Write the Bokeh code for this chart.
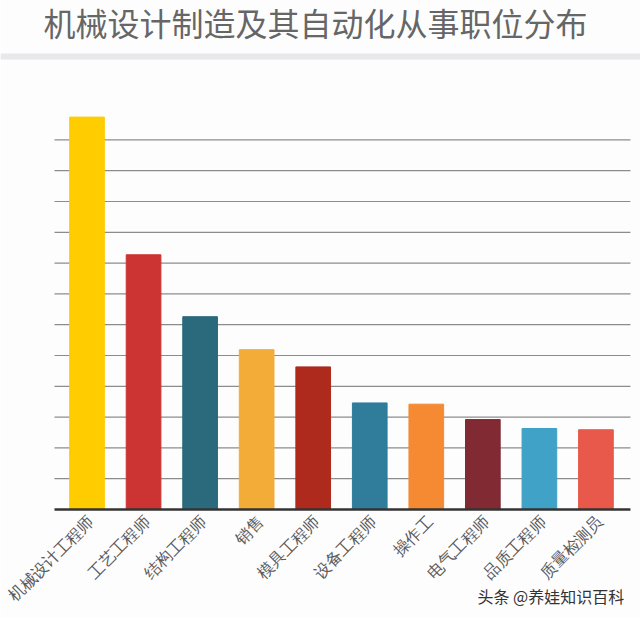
import math
from bokeh.embed import file_html
from bokeh.resources import INLINE
from bokeh.plotting import figure
from bokeh.models import (BoxAnnotation, Label, LabelSet, ColumnDataSource, Range1d)

categories = ["机械设计工程师", "工艺工程师", "结构工程师", "销售", "模具工程师",
              "设备工程师", "操作工", "电气工程师", "品质工程师", "质量检测员"]
values = [12.74, 8.27, 6.26, 5.19, 4.63, 3.46, 3.42, 2.92, 2.63, 2.59]
colors = ["#FFCC00", "#CC3333", "#2A6A7C", "#F3AC38", "#AE2A1C",
          "#2F7C9B", "#F58A33", "#822A33", "#3FA2C6", "#E8594B"]
title = "机械设计制造及其自动化从事职位分布"
watermark = "头条 @养娃知识百科"
grid_ticks = list(range(1, 13))
axis_extent = (-0.575, 9.61)

positions = list(range(len(categories)))
src = ColumnDataSource(dict(x=positions, c=categories, v=values, col=colors,
                            y0=[0] * len(categories)))
p = figure(width=640, height=617,
           x_range=Range1d(-1.53, 9.788), y_range=Range1d(-3.506, 16.526),
           x_axis_location=None, y_axis_location=None,
           output_backend="svg", toolbar_location=None,
           background_fill_color="#FDFDFE", border_fill_color="#FDFDFE",
           min_border_left=0, min_border_right=0, min_border_top=0, min_border_bottom=0)
p.outline_line_color = None
p.grid.visible = False

p.segment(x0=[axis_extent[0]] * len(grid_ticks), x1=[axis_extent[1]] * len(grid_ticks),
          y0=grid_ticks, y1=grid_ticks, line_color="#8C8C8C", line_width=1.2)
p.vbar(x="x", top="v", bottom=0, width=0.613, color="col", source=src)
p.segment(x0=[axis_extent[0]], x1=[axis_extent[1]], y0=[0], y1=[0],
          line_color="#333333", line_width=2.5)

p.add_layout(LabelSet(x="x", y="y0", text="c", source=src, angle=math.pi / 4,
                      x_offset=4, y_offset=-10, text_align="right", text_baseline="middle",
                      text_font="Noto Sans CJK SC", text_font_size="16.2px", text_color="#5A5A5A"))

p.add_layout(BoxAnnotation(top=564, bottom=558, top_units="screen", bottom_units="screen",
                           fill_color="#E8E8EA", fill_alpha=1, line_color=None))
p.add_layout(Label(x=43, y=596, x_units="screen", y_units="screen", text=title,
                   text_font="Noto Sans CJK SC", text_font_size="32px", text_color="#666666",
                   text_baseline="middle"))
p.add_layout(Label(x=477, y=22, x_units="screen", y_units="screen", text=watermark,
                   text_font="Noto Sans CJK SC", text_font_size="16px", text_color="#333333",
                   text_baseline="middle"))

open("out.html", "w").write(file_html(p, INLINE))
